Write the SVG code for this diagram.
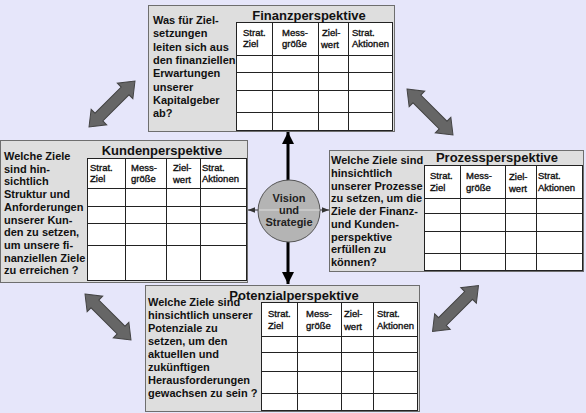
<svg xmlns="http://www.w3.org/2000/svg" width="586" height="413" viewBox="0 0 586 413">
<style>
.bg{fill:#e6e6fa}
.box{fill:#dedede;stroke:#6e6e6e;stroke-width:1}
.tbl{fill:#ffffff;stroke:#222;stroke-width:1}
.grid{stroke:#222;stroke-width:1;fill:none}
.q{font-family:"Liberation Sans",Arial,sans-serif;font-weight:bold;font-size:11px;fill:#111}
.t{font-family:"Liberation Sans",Arial,sans-serif;font-weight:bold;font-size:13px;fill:#111;text-anchor:middle}
.h{font-family:"Liberation Sans",Arial,sans-serif;font-size:9.5px;fill:#111;stroke:#111;stroke-width:0.35}
.c{font-family:"Liberation Sans",Arial,sans-serif;font-weight:bold;font-size:11px;fill:#222;text-anchor:middle}
.blk{fill:#666;stroke:#444;stroke-width:1}
</style>
<defs>
<path id="dbl" d="M-32.5,0 L-18.5,-11 L-18.5,-5.5 L18.5,-5.5 L18.5,-11 L32.5,0 L18.5,11 L18.5,5.5 L-18.5,5.5 L-18.5,11 Z"/>
<marker id="ah" viewBox="0 0 10 10" refX="10" refY="5" markerWidth="4" markerHeight="4" orient="auto" markerUnits="strokeWidth"><path d="M0,0 L10,5 L0,10 Z" fill="#000"/></marker>
<marker id="as" viewBox="0 0 10 10" refX="10" refY="5" markerWidth="7" markerHeight="7" orient="auto" markerUnits="strokeWidth"><path d="M0,1 L10,5 L0,9 Z" fill="#333"/></marker>
</defs>
<rect class="bg" x="0" y="0" width="586" height="413"/>

<g id="connectors">
<use href="#dbl" class="blk" transform="translate(112,104) rotate(-45)"/>
<use href="#dbl" class="blk" transform="translate(430,112) rotate(45)"/>
<use href="#dbl" class="blk" transform="translate(455.5,308.5) rotate(-45)"/>
<use href="#dbl" class="blk" transform="translate(108,317) rotate(45)"/>
<line x1="288" y1="181" x2="288" y2="132" stroke="#000" stroke-width="3" marker-end="url(#ah)"/>
<line x1="288" y1="242" x2="288" y2="284" stroke="#000" stroke-width="3" marker-end="url(#ah)"/>
<line x1="259" y1="210" x2="248" y2="210" stroke="#333" stroke-width="1" marker-end="url(#as)"/>
<line x1="320" y1="210" x2="329" y2="210" stroke="#333" stroke-width="1" marker-end="url(#as)"/>
</g>

<g id="finanz">
<rect class="box" x="148.5" y="5.5" width="246" height="126"/>
<rect class="tbl" x="236.5" y="22.5" width="156" height="108"/>
<path class="grid" d="M236.5,55.5H392.5M236.5,72.5H392.5M236.5,90.5H392.5M236.5,112.5H392.5M272.5,22.5V130.5M318.5,22.5V130.5M348.5,22.5V130.5"/>
<text class="t" x="309" y="20">Finanzperspektive</text>
<text class="q" x="153" y="24">Was für Ziel-</text>
<text class="q" x="153" y="37.3">setzungen</text>
<text class="q" x="153" y="50.6">leiten sich aus</text>
<text class="q" x="153" y="63.9">den finanziellen</text>
<text class="q" x="153" y="77.2">Erwartungen</text>
<text class="q" x="153" y="90.5">unserer</text>
<text class="q" x="153" y="103.8">Kapitalgeber</text>
<text class="q" x="153" y="117.1">ab?</text>
<text class="h" x="243" y="35.5">Strat.</text><text class="h" x="243" y="46.5">Ziel</text>
<text class="h" x="282" y="35.5">Mess-</text><text class="h" x="282" y="46.5">größe</text>
<text class="h" x="322" y="35.5">Ziel-</text><text class="h" x="321" y="48">wert</text>
<text class="h" x="352" y="35.5">Strat.</text><text class="h" x="352" y="46.5">Aktionen</text>
</g>

<g id="kunden">
<rect class="box" x="0.5" y="140.5" width="247" height="142"/>
<rect class="tbl" x="87.5" y="158.5" width="159" height="122"/>
<path class="grid" d="M87.5,188.5H246.5M87.5,206.5H246.5M87.5,223.5H246.5M87.5,245.5H246.5M125.5,158.5V280.5M166.5,158.5V280.5M200.5,158.5V280.5"/>
<text class="t" x="162" y="155">Kundenperspektive</text>
<text class="q" x="4" y="160">Welche Ziele</text>
<text class="q" x="4" y="172.7">sind hin-</text>
<text class="q" x="4" y="185.4">sichtlich</text>
<text class="q" x="4" y="198.1">Struktur und</text>
<text class="q" x="4" y="210.8">Anforderungen</text>
<text class="q" x="4" y="223.5">unserer Kun-</text>
<text class="q" x="4" y="236.2">den zu setzen,</text>
<text class="q" x="4" y="248.9">um unsere fi-</text>
<text class="q" x="4" y="261.6">nanziellen Ziele</text>
<text class="q" x="4" y="274.3">zu erreichen ?</text>
<text class="h" x="90" y="170.5">Strat.</text><text class="h" x="90" y="181.5">Ziel</text>
<text class="h" x="131" y="170.5">Mess-</text><text class="h" x="131" y="181.5">größe</text>
<text class="h" x="173" y="170.5">Ziel-</text><text class="h" x="173" y="183">wert</text>
<text class="h" x="202" y="170.5">Strat.</text><text class="h" x="202" y="181.5">Aktionen</text>
</g>

<g id="prozess">
<rect class="box" x="329.5" y="150.5" width="254" height="121"/>
<rect class="tbl" x="424.5" y="165.5" width="158" height="105"/>
<path class="grid" d="M424.5,198.5H582.5M424.5,213.5H582.5M424.5,231.5H582.5M424.5,253.5H582.5M460.5,165.5V270.5M505.5,165.5V270.5M536.5,165.5V270.5"/>
<text class="t" x="497" y="162">Prozessperspektive</text>
<text class="q" x="331" y="164">Welche Ziele sind</text>
<text class="q" x="331" y="176.75">hinsichtlich</text>
<text class="q" x="331" y="189.5">unserer Prozesse</text>
<text class="q" x="331" y="202.25">zu setzen, um die</text>
<text class="q" x="331" y="215" fill="#555">Ziele der Finanz-</text>
<text class="q" x="331" y="227.75">und Kunden-</text>
<text class="q" x="331" y="240.5">perspektive</text>
<text class="q" x="331" y="253.25">erfüllen zu</text>
<text class="q" x="331" y="266">können?</text>
<text class="h" x="430" y="178.5">Strat.</text><text class="h" x="430" y="190.5">Ziel</text>
<text class="h" x="466" y="178.5">Mess-</text><text class="h" x="466" y="190.5">größe</text>
<text class="h" x="509" y="179.5">Ziel-</text><text class="h" x="509" y="192">wert</text>
<text class="h" x="538" y="178.5">Strat.</text><text class="h" x="538" y="190.5">Aktionen</text>
</g>

<g id="potenzial">
<rect class="box" x="145.5" y="285.5" width="274" height="126"/>
<rect class="tbl" x="261.5" y="302.5" width="156" height="108"/>
<path class="grid" d="M261.5,336.5H417.5M261.5,352.5H417.5M261.5,371.5H417.5M261.5,393.5H417.5M297.5,302.5V410.5M341.5,302.5V410.5M373.5,302.5V410.5"/>
<text class="t" x="294" y="300">Potenzialperspektive</text>
<text class="q" x="148" y="305.5">Welche Ziele sind</text>
<text class="q" x="148" y="318.6">hinsichtlich unserer</text>
<text class="q" x="148" y="331.7">Potenziale zu</text>
<text class="q" x="148" y="344.8">setzen, um den</text>
<text class="q" x="148" y="357.9">aktuellen und</text>
<text class="q" x="148" y="371">zukünftigen</text>
<text class="q" x="148" y="384.1">Herausforderungen</text>
<text class="q" x="148" y="397.2">gewachsen zu sein ?</text>
<text class="h" x="268" y="316.5">Strat.</text><text class="h" x="268" y="328.5">Ziel</text>
<text class="h" x="306" y="316.5">Mess-</text><text class="h" x="306" y="328.5">größe</text>
<text class="h" x="344" y="317">Ziel-</text><text class="h" x="344" y="330">wert</text>
<text class="h" x="377" y="316.5">Strat.</text><text class="h" x="377" y="328.5">Aktionen</text>
</g>

<g id="vision">
<circle cx="289" cy="211" r="31" fill="#b4b4b4" stroke="#555" stroke-width="1"/>
<line x1="259" y1="210" x2="320" y2="210" stroke="#eeeeee" stroke-width="1" opacity="0.7"/>
<text class="c" x="289" y="202">Vision</text>
<text class="c" x="289" y="214" font-size="9">und</text>
<text class="c" x="289" y="226">Strategie</text>
</g>
</svg>
